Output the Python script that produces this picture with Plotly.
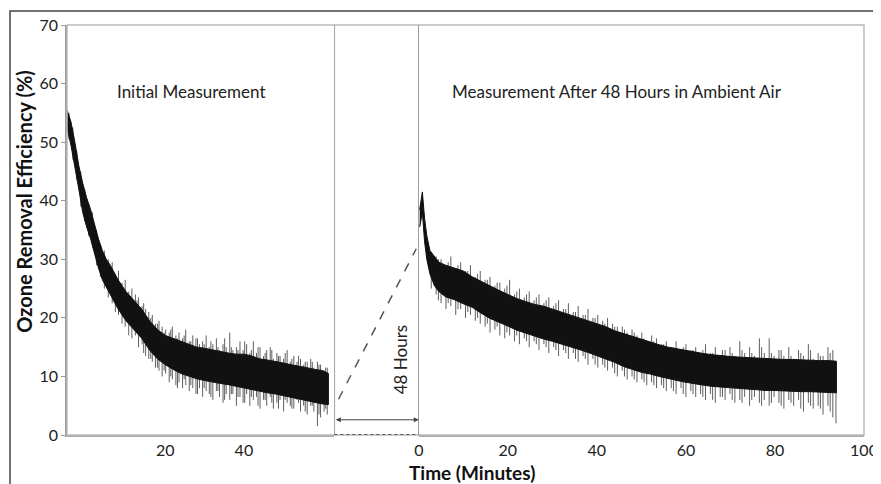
import plotly.graph_objects as go

left_t = [-5, -4, -3, -2, -1, 0, 1, 2, 3, 4, 5, 6, 8, 10, 12, 14, 16, 18, 20, 22, 24, 26, 28, 30,
          32, 34, 36, 38, 40, 42, 44, 46, 48, 50, 52, 54, 56, 58, 60, 61.5]
left_hi = [55.5, 53.5, 50, 46, 43, 40.5, 38.5, 36, 33.5, 31.5, 30, 29, 26.5, 24.5, 23, 21.5, 19.5, 18, 17,
           16.5, 16, 15.5, 15, 14.8, 14.5, 14.2, 14, 13.8, 13.8, 13.5, 13, 12.8, 12.6, 12.3, 12, 11.8,
           11.5, 11.2, 11, 10.5]
left_lo = [52.5, 49.5, 46, 42, 38, 35.5, 33.5, 31, 28.5, 26.5, 25, 24, 21.5, 19.5, 18, 16.5, 14.5, 13, 12,
           11.2, 10.5, 10, 9.6, 9.3, 9, 8.8, 8.6, 8.4, 8.1, 7.8, 7.5, 7.2, 7, 6.8, 6.5, 6.2, 5.9, 5.6,
           5.3, 5.2]

# noise spikes of the initial measurement
left_spk_t = [-4.5, -3.5, -2.5, -1.5, -0.5, 0.5, 1.5, 2.5, 3.5, 4.5, 5.5, 6.5, 7.3, 8.1, 9, 9.8, 10.7,
              11.5, 12.4, 13.2, 14.1, 15, 15.8, 16.7, 17.5, 18.4, 19.2, 20.1, 21, 21.8, 22.7, 23.5, 24.4,
              25.2, 26.1, 27, 27.8, 28.7, 29.5, 30.4, 31.2, 32.1, 33, 33.8, 34.7, 35.5, 36.4, 37.2, 38.1,
              39, 39.8, 40.7, 41.5, 42.4, 43.2, 44.1, 45, 45.8, 46.7, 47.5, 48.4, 49.2, 50.1, 51, 51.8,
              52.7, 53.5, 54.4, 55.2, 56.1, 57, 57.8, 58.7, 59.5, 60.4, 61.2,
              12.8, 14.5, 16.3, 18, 19.7, 21.4, 23.1, 24.8, 26.5, 28.2, 29.9, 31.6, 33.4, 35.1, 36.8,
              38.5, 40.2, 41.9, 43.6, 45.4, 47.1, 48.8, 50.5, 52.2, 53.9, 55.6, 57.4, 59.1, 60.8]
left_spk_lo = [50.5, 47, 43.5, 39, 36.5, 34, 32, 29, 27, 25, 23.5, 22.5, 21, 20.5, 19, 18.5, 17, 16.5,
               17, 15, 15.5, 13.5, 13, 12.5, 11.5, 11, 10, 10.5, 9, 9.5, 8.5, 9, 8, 8.5, 7.5, 8, 7, 8,
               6.5, 7.5, 7, 6, 7.5, 6.5, 5.5, 7, 6, 7, 5, 6.5, 5.5, 7, 5, 6, 6.5, 4.5, 6, 5, 6.5, 4.5,
               5.5, 6, 4, 5.5, 5, 4.5, 6, 4, 5, 3.5, 5, 4, 1.5, 3, 4, 3.5,
               17.5, 14, 13, 11.5, 11, 10, 8, 9.5, 8.5, 7, 8, 6.5, 7.5, 6, 7, 6.5, 5.5, 6.5, 5, 6, 5.5,
               4.5, 6, 4.5, 5.5, 4, 5, 3.5, 4.5]
left_spk_hi = [55, 52.5, 48.5, 45, 42, 39.5, 38, 35, 32.5, 31.5, 30, 29.5, 27.5, 28, 26, 26.5, 24.5, 25,
               24, 23.5, 22, 21.5, 21, 20.5, 19, 19.5, 18.5, 18, 17.5, 18.5, 17, 17.5, 16.5, 18, 16, 17,
               16.5, 15.5, 16, 17, 15, 15.5, 16.5, 14.5, 15.5, 15, 17.5, 14.5, 15, 16, 14.5, 15.5, 14,
               16, 14, 15, 13.5, 14.5, 15, 13, 14, 13.5, 13, 14.5, 12.5, 13.5, 12.5, 13, 12, 12.5, 13,
               11.5, 12.5, 12, 11, 11.5,
               23, 22.5, 20, 19, 17.5, 18, 16.5, 17, 16, 16.5, 15.5, 16, 15, 16.5, 15, 14.5, 16, 14.5,
               15, 14, 14.5, 13.5, 14, 13, 13.5, 12.5, 12.5, 12, 11.5]

# Measurement after 48 hours in ambient air
right_t = [0.2, 0.8, 1.3, 1.8, 2.5, 3.5, 4.5, 6, 8, 10, 12, 14, 16, 18, 20, 22, 24, 26, 28, 30, 32, 34,
           36, 38, 40, 42, 44, 46, 48, 50, 52, 54, 56, 58, 60, 62, 64, 66, 68, 70, 72, 74, 76, 78, 80,
           82, 84, 86, 88, 90, 92, 93.8]
right_hi = [38.5, 41.5, 37, 34, 31.5, 30.5, 29.5, 29, 28.5, 28, 27, 26.2, 25.5, 24.7, 24, 23.3, 22.8,
            22.3, 22, 21.5, 21, 20.5, 20, 19.5, 19, 18.5, 17.8, 17.3, 16.8, 16.3, 15.8, 15.4, 15, 14.7,
            14.4, 14.1, 13.9, 13.7, 13.5, 13.4, 13.3, 13.2, 13.1, 13, 13, 12.9, 12.9, 12.8, 12.8, 12.7,
            12.7, 12.6]
right_lo = [35.5, 38, 33, 30, 27.5, 25.5, 24.5, 23.6, 23.1, 22.4, 21.8, 20.8, 19.9, 19.3, 18.6, 17.9,
            17.4, 16.9, 16.4, 16, 15.6, 15.1, 14.6, 14.1, 13.6, 13, 12.4, 11.7, 11.2, 10.7, 10.4, 10,
            9.6, 9.3, 9, 8.7, 8.5, 8.3, 8.1, 8, 7.9, 7.8, 7.7, 7.6, 7.6, 7.5, 7.5, 7.4, 7.4, 7.3, 7.3,
            7.2]

right_spk_t = [2.8, 3.9, 5, 6.1, 7.2, 8.3, 9.4, 10.5, 11.6, 12.7, 13.8, 14.9, 16, 17.1, 18.2, 19.3,
               20.4, 21.5, 22.6, 23.7, 24.8, 25.9, 27, 28.1, 29.2, 30.3, 31.4, 32.5, 33.6, 34.7, 35.8,
               36.9, 38, 39.1, 40.2, 41.3, 42.4, 43.5, 44.6, 45.7, 46.8, 47.9, 49, 50.1, 51.2, 52.3,
               53.4, 54.5, 55.6, 56.7, 57.8, 58.9, 60, 61.1, 62.2, 63.3, 64.4, 65.5, 66.6, 67.7, 68.8,
               69.9, 71, 72.1, 73.2, 74.3, 75.4, 76.5, 77.6, 78.7, 79.8, 80.9, 82, 83.1, 84.2, 85.3,
               86.4, 87.5, 88.6, 89.7, 90.8, 91.9, 93, 93.7,
               4.4, 6.6, 8.8, 11, 13.2, 15.4, 17.6, 19.8, 22, 24.2, 26.4, 28.6, 30.8, 33, 35.2, 37.4,
               39.6, 41.8, 44, 46.2, 48.4, 50.6, 52.8, 55, 57.2, 59.4, 61.6, 63.8, 66, 68.2, 70.4,
               72.6, 74.8, 77, 79.2, 81.4, 83.6, 85.8, 88, 90.2, 92.4]
right_spk_lo = [25, 24, 22.5, 21.5, 22, 20.5, 21.5, 20, 20.5, 19.5, 19, 18.5, 17.5, 18, 17, 16.5, 17,
                16, 15.5, 16.5, 15, 16, 14.5, 15.5, 14, 15, 13.5, 14.5, 13, 14, 12.5, 13.5, 12, 13,
                11.5, 12, 11, 11.5, 10, 11, 9.5, 10, 9, 9.5, 8.5, 9, 8, 8.5, 7.5, 8, 7, 8, 6.5, 7.5,
                6.5, 7, 6, 7, 5.5, 6.5, 6, 7, 5.5, 6, 6.5, 5, 6.5, 5.5, 6, 5, 6.5, 5.5, 4.5, 6, 5, 6,
                4, 5.5, 4.5, 5, 3.5, 5, 3, 2,
                23, 22.5, 21.5, 21, 20, 19, 18.5, 17.5, 17, 16, 15.5, 15, 14.5, 14, 13, 13, 12, 11.5,
                10.5, 10, 9.5, 9, 8.5, 8, 7.5, 7, 7, 6.5, 6, 6.5, 6, 5.5, 6, 5, 5.5, 5, 5.5, 4.5, 5,
                4.5, 4]
right_spk_hi = [31, 30.5, 30, 29, 30.5, 28.5, 29.5, 28, 29, 27, 28, 26.5, 27, 25.5, 26, 25, 26.5, 24,
                25, 23.5, 24.5, 23, 24, 22.5, 23.5, 22, 23, 21.5, 22.5, 21, 22, 20.5, 21.5, 20, 20.5,
                19.5, 20, 19, 18.5, 18.5, 17.5, 18, 17, 17.5, 16, 17, 16.5, 15.5, 16, 15, 16, 14.5,
                15.5, 14.5, 15, 14, 15.5, 14, 15, 13.5, 14.5, 15, 13.5, 16, 14, 15, 13.5, 16.5, 14,
                16.5, 13.5, 14.5, 13.5, 15, 13, 14.5, 13.5, 15.5, 13, 14, 13.5, 15, 14.5, 12.5,
                30, 29.5, 29, 28, 27.5, 26.5, 26, 25.5, 24.5, 24, 23.5, 23, 22.5, 21.5, 21, 20.5, 20,
                19, 18.5, 18, 17.5, 16.5, 16, 15.5, 15, 15, 14.5, 14.5, 14, 14.5, 14, 14.5, 14, 15, 14,
                14.5, 13.5, 14, 14.5, 13.5, 14]

# dashed link between the end of the first run and the start of the second
gap_link = [6.1, 31.8]

left_ticks = [20, 40]
right_ticks = [0, 20, 40, 60, 80, 100]

FONT = 'Lato'
INK = '#111111'


def spikes(t, lo, hi):
    xs, ys = [], []
    for a, b, c in zip(t, lo, hi):
        xs += [a, a, None]
        ys += [b, c, None]
    return xs, ys


fig = go.Figure()

for t, lo, hi, st, slo, shi, xa in [(left_t, left_lo, left_hi, left_spk_t, left_spk_lo, left_spk_hi, 'x'),
                                    (right_t, right_lo, right_hi, right_spk_t, right_spk_lo, right_spk_hi, 'x3')]:
    sx, sy = spikes(st, slo, shi)
    fig.add_trace(go.Scatter(x=sx, y=sy, xaxis=xa, yaxis='y', mode='lines',
                             line=dict(color='rgba(25,25,25,0.7)', width=1), hoverinfo='skip'))
    fig.add_trace(go.Scatter(x=t + t[::-1], y=hi + lo[::-1], xaxis=xa, yaxis='y', mode='lines',
                             fill='toself', fillcolor=INK, line=dict(color=INK, width=1)))

fig.add_trace(go.Scatter(x=[0.05, 0.97], y=gap_link, xaxis='x2', yaxis='y', mode='lines',
                         line=dict(color='#555555', width=1.5, dash='dash')))

axis_common = dict(showgrid=False, zeroline=False, showline=True, linecolor='#aaaaaa', linewidth=1.5,
                   ticks='', tickfont=dict(family=FONT, size=16, color='#222222'), anchor='y',
                   ticklabeloverflow='allow')
# the page body adds an 8px offset, so the figure is 8px smaller than the window
fig.update_layout(
    width=873, height=476, showlegend=False,
    margin=dict(l=59, r=3, t=17, b=49),
    plot_bgcolor='white', paper_bgcolor='white',
    font=dict(family=FONT, color='#222222'),
    xaxis=dict(domain=[0, 0.3354], range=[-5, 63], tickvals=left_ticks, **axis_common),
    xaxis2=dict(domain=[0.3354, 0.4414], range=[0, 1], visible=False, anchor='y'),
    xaxis3=dict(domain=[0.4414, 1], range=[0, 100], tickvals=right_ticks, **axis_common),
    yaxis=dict(range=[0, 70], tickvals=[0, 10, 20, 30, 40, 50, 60, 70], showgrid=False, zeroline=False,
               showline=True, linecolor='#999999', linewidth=1.5, ticks='outside', ticklen=4,
               tickcolor='#999999', tickfont=dict(family=FONT, size=16, color='#222222')),
)

# frames and the gap between the two runs
fig.add_shape(type='rect', xref='paper', yref='paper', x0=0, x1=1, y0=0, y1=1,
              line=dict(color='#bbbbbb', width=1.5), layer='above')
fig.add_shape(type='rect', xref='paper', yref='paper', x0=-58 / 811, x1=1.015, y0=-0.146, y1=1.034,
              line=dict(color='#444444', width=1.5))
for xv in [0, 1]:
    fig.add_shape(type='line', xref='x2', yref='y', x0=xv, x1=xv, y0=0, y1=70,
                  line=dict(color='#808080', width=1.5), layer='above')
fig.add_shape(type='line', xref='x2', yref='y', x0=0, x1=1, y0=0, y1=0,
              line=dict(color='#555555', width=2, dash='dot'), layer='above')

fig.add_annotation(x=1, y=2.6, xref='x2', yref='y', ax=0, ay=2.6, axref='x2', ayref='y', text='',
                   showarrow=True, arrowside='end+start', arrowhead=2, arrowsize=1, arrowwidth=1,
                   arrowcolor='#444444', standoff=0, startstandoff=0)
fig.add_annotation(x=0.78, y=12.8, xref='x2', yref='y', text='48 Hours', textangle=-90, showarrow=False,
                   font=dict(family=FONT, size=17, color='#222222'))
fig.add_annotation(x=26.75, y=58.6, xref='x', yref='y', text='Initial Measurement', showarrow=False,
                   font=dict(family=FONT, size=17, color='#222222'))
fig.add_annotation(x=44.6, y=58.6, xref='x3', yref='y', text='Measurement After 48 Hours in Ambient Air',
                   showarrow=False, font=dict(family=FONT, size=17, color='#222222'))

# axis titles
fig.add_annotation(x=(23 - 67) / 811, y=(435 - 201) / 410, xref='paper', yref='paper',
                   xanchor='center', yanchor='middle',
                   text='<b>Ozone Removal Efficiency (%)</b>', textangle=-90, showarrow=False,
                   font=dict(family=FONT, size=20, color='#111111'))
fig.add_annotation(x=(479 - 67) / 811, y=(435 - 472) / 410, xref='paper', yref='paper',
                   xanchor='center', yanchor='middle',
                   text='<b>Time (Minutes)</b>', showarrow=False,
                   font=dict(family=FONT, size=19, color='#111111'))

fig.write_html("out.html")
